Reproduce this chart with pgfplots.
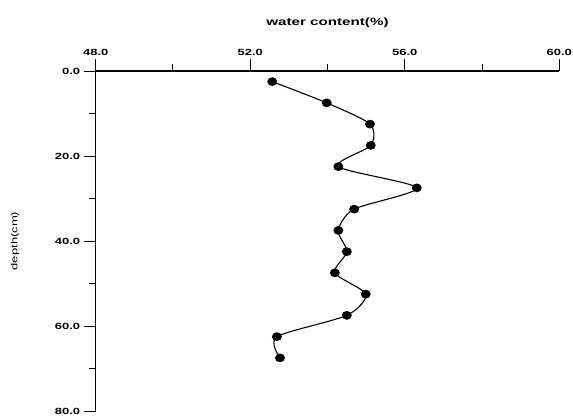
\documentclass[border=0pt]{standalone}
\usepackage{fontspec}
\setmainfont{Liberation Sans}
\newfontfamily\widefont[FakeStretch=1.45]{Liberation Sans}
\usepackage{pgfplots}
\pgfplotsset{compat=1.18}
\begin{document}
\begin{tikzpicture}
\begin{axis}[
  scale only axis, width=463.6bp, height=340bp,
  xmin=48, xmax=60, ymin=0, ymax=80, y dir=reverse,
  axis x line*=top, axis y line*=left,
  axis line style={black, line width=1.1bp},
  xtick={48,52,56,60}, minor xtick={50,54,58},
  ytick={0,20,40,60,80}, minor ytick={10,30,50,70},
  xticklabels={48.0,52.0,56.0,60.0},
  yticklabels={0.0,20.0,40.0,60.0,80.0},
  tick align=outside, major tick length=12bp, minor tick length=7bp,
  tick style={black, line width=1bp},
  ticklabel style={font=\widefont\bfseries\fontsize{9}{10}\selectfont},
  xticklabel pos=top,
  xlabel={water content(\%)},
  xlabel style={font=\widefont\bfseries\fontsize{10.5}{12}\selectfont, at={(axis description cs:0.5,1)}, anchor=south, yshift=40bp},
  clip=false,
]
\coordinate (tl) at (axis cs:48,0);
\coordinate (br) at (axis cs:60,80);
\node[rotate=90, font=\widefont\fontsize{9}{10}\selectfont] at ([xshift=-80.7bp]axis cs:48,40) {depth(cm)};
\addplot[black, line width=1.1bp, smooth, tension=0.45, mark=*, mark size=3.8bp, mark options={xscale=1.15}] coordinates {
(52.57,2.5) (53.98,7.5) (55.10,12.5) (55.12,17.5) (54.28,22.5) (56.31,27.5) (54.69,32.5)
(54.28,37.5) (54.50,42.5) (54.19,47.5) (54.99,52.5) (54.50,57.5) (52.69,62.5) (52.77,67.5)};
\end{axis}
\pgfresetboundingbox
\path[use as bounding box] ([xshift=-95.7bp,yshift=71bp]tl) rectangle ([xshift=13.7bp,yshift=-9bp]br);
\end{tikzpicture}
\end{document}
